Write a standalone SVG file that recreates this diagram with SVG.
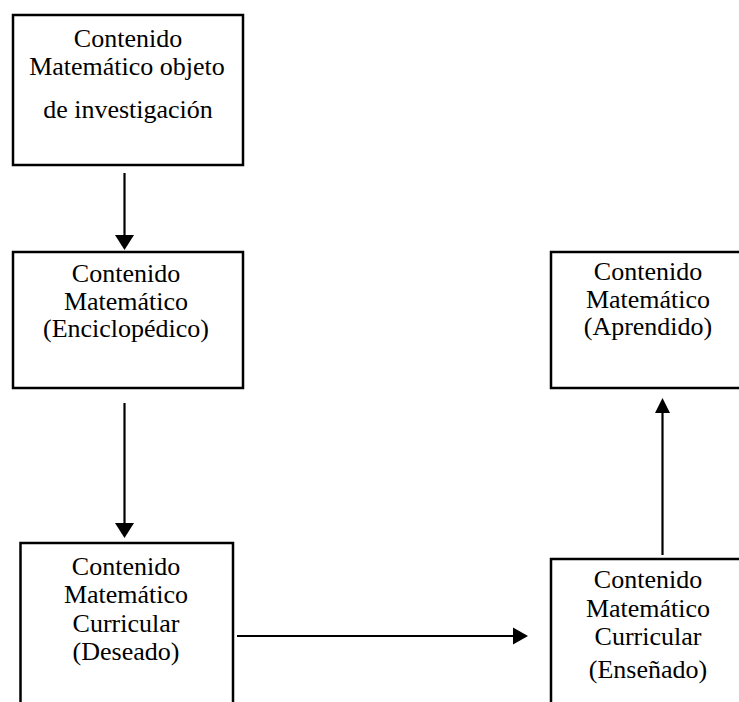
<svg xmlns="http://www.w3.org/2000/svg" width="739" height="702" viewBox="0 0 739 702">
<style>
.box{fill:#fff;stroke:#000;stroke-width:2.5}
.t{font-family:"Liberation Serif","Times New Roman",serif;font-size:26px;fill:#000;text-anchor:middle}
.ln{stroke:#000;stroke-width:2.2;fill:none}
.ah{fill:#000}
</style>
<rect width="739" height="702" fill="#fff"/>
<g id="n1">
<rect class="box" x="13" y="15" width="230" height="150"/>
<text class="t" x="128" y="47">Contenido</text>
<text class="t" x="127" y="75">Matemático objeto</text>
<text class="t" x="128" y="118">de investigación</text>
</g>
<g id="n2">
<rect class="box" x="13" y="252" width="230" height="136"/>
<text class="t" x="126" y="282">Contenido</text>
<text class="t" x="126" y="310">Matemático</text>
<text class="t" x="126" y="337">(Enciclopédico)</text>
</g>
<g id="n3">
<rect class="box" x="20.5" y="543" width="212.5" height="180"/>
<text class="t" x="126" y="575">Contenido</text>
<text class="t" x="126" y="603">Matemático</text>
<text class="t" x="126" y="632">Curricular</text>
<text class="t" x="126" y="660">(Deseado)</text>
</g>
<g id="n4">
<rect class="box" x="551" y="252" width="194" height="136"/>
<text class="t" x="648" y="280">Contenido</text>
<text class="t" x="648" y="308">Matemático</text>
<text class="t" x="648" y="335">(Aprendido)</text>
</g>
<g id="n5">
<rect class="box" x="551" y="559" width="194" height="170"/>
<text class="t" x="648" y="588">Contenido</text>
<text class="t" x="648" y="617">Matemático</text>
<text class="t" x="648" y="645">Curricular</text>
<text class="t" x="648" y="678">(Enseñado)</text>
</g>
<g id="connectors">
<line class="ln" x1="124.5" y1="173" x2="124.5" y2="237"/>
<polygon class="ah" points="115,235 134,235 124.5,250"/>
<line class="ln" x1="124.5" y1="403" x2="124.5" y2="525"/>
<polygon class="ah" points="115,523 134,523 124.5,538"/>
<line class="ln" x1="237" y1="636" x2="515" y2="636"/>
<polygon class="ah" points="513,627.5 513,644.5 528,636"/>
<line class="ln" x1="662.5" y1="555" x2="662.5" y2="411"/>
<polygon class="ah" points="655,413 670,413 662.5,398"/>
</g>
</svg>
